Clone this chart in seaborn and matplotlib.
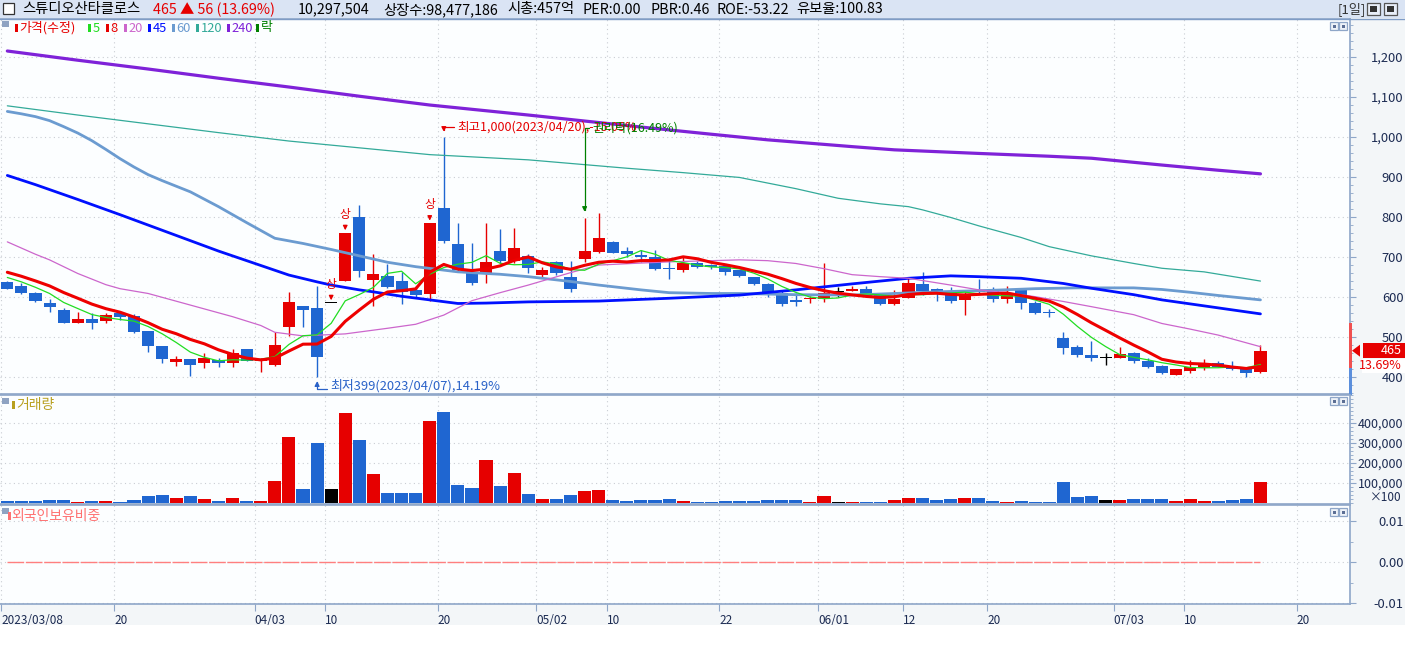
import matplotlib
matplotlib.use("Agg")
import matplotlib.pyplot as plt
import matplotlib.transforms as mtransforms
from matplotlib.patches import Rectangle, Polygon
from matplotlib.ticker import MultipleLocator
import numpy as np
import pandas as pd
import seaborn as sns

# ---------------- values ----------------
opens = [637, 627, 609, 585, 567, 535, 544, 538, 560, 552,
         514, 477, 437, 444, 433, 442, 433, 468, 440, 429,
         525, 577, 572, 585, 640, 799, 642, 652, 639, 617,
         606, 822, 731, 658, 660, 714, 689, 702, 653, 686,
         649, 693, 712, 737, 713, 703, 700, 671, 667, 685,
         678, 677, 666, 649, 632, 608, 592, 593, 593, 612,
         615, 618, 608, 582, 597, 631, 618, 612, 591, 617,
         617, 595, 617, 583, 562, 496, 475, 455, 446, 447,
         459, 440, 427, 404, 415, 422, 435, 427, 421, 412]
highs = [640, 635, 612, 593, 572, 562, 558, 558, 560, 557,
         514, 477, 452, 444, 458, 446, 468, 468, 446, 512,
         611, 577, 627, 585, 760, 829, 706, 681, 662, 627,
         784, 1000, 783, 733, 783, 769, 772, 706, 675, 688,
         688, 796, 808, 738, 725, 717, 717, 696, 700, 688,
         681, 677, 666, 649, 635, 613, 610, 601, 683, 625,
         627, 627, 610, 617, 646, 661, 622, 623, 612, 643,
         623, 627, 620, 590, 568, 512, 479, 489, 458, 475,
         462, 446, 429, 420, 442, 443, 440, 439, 425, 479]
lows = [618, 607, 587, 562, 533, 535, 518, 533, 542, 510,
        462, 433, 427, 402, 421, 423, 425, 438, 412, 427,
        502, 525, 399, 585, 640, 650, 577, 621, 582, 596,
        588, 733, 662, 628, 633, 683, 683, 658, 650, 654,
        612, 687, 708, 708, 700, 687, 667, 645, 662, 671,
        670, 655, 648, 628, 600, 577, 577, 583, 587, 600,
        613, 598, 579, 579, 596, 604, 590, 585, 554, 608,
        587, 585, 570, 557, 548, 456, 450, 440, 430, 446,
        435, 421, 407, 403, 408, 417, 423, 417, 400, 408]
closes = [620, 610, 590, 575, 533, 544, 535, 553, 550, 512,
          477, 444, 444, 430, 447, 433, 458, 439, 441, 479,
          586, 567, 450, 585, 760, 665, 656, 625, 612, 603,
          784, 740, 667, 635, 686, 689, 722, 671, 667, 658,
          620, 714, 747, 710, 707, 698, 669, 669, 683, 675,
          675, 662, 652, 631, 603, 581, 587, 594, 610, 612,
          618, 600, 582, 595, 633, 614, 615, 588, 607, 612,
          595, 608, 583, 560, 558, 472, 455, 446, 446, 457,
          438, 424, 410, 418, 425, 434, 425, 419, 409, 465]
# closes before the first visible day (estimated from where MA5 / MA8 start)
prior_closes = [690, 683, 675, 665, 658, 652, 645]

# volume in the axis unit (x100 shares)
volumes = [8000, 8000, 8000, 13000, 13000, 3000, 8000, 8000, 3000, 13000,
           33000, 38000, 23000, 33000, 18000, 8000, 23000, 8000, 8000, 108000,
           328000, 68000, 298000, 68000, 448000, 313000, 143000, 48000, 48000, 48000,
           408000, 453000, 88000, 73000, 213000, 83000, 148000, 43000, 18000, 18000,
           38000, 58000, 63000, 13000, 8000, 13000, 13000, 18000, 8000, 3000,
           5000, 8000, 8000, 8000, 13000, 13000, 13000, 3000, 33000, 3000,
           3000, 3000, 3000, 13000, 23000, 23000, 13000, 18000, 23000, 23000,
           8000, 3000, 8000, 3000, 3000, 103000, 28000, 33000, 13000, 13000,
           18000, 18000, 18000, 8000, 18000, 8000, 8000, 13000, 18000, 103000]

foreign_ratio = [0.0] * 90

# longer moving averages read at many days (day index, value)
ma20_x = [0, 2, 3, 5, 7, 8, 10, 13, 16, 18, 19, 21, 24, 27, 29, 31, 33, 35, 37, 40, 42, 45, 47, 50, 52,
          54, 56, 58, 60, 62, 64, 67, 69, 71, 73, 75, 77, 80, 82, 84, 86, 89]
ma20_y = [737, 706, 692, 658, 630, 620, 608, 579, 550, 528, 511, 502, 507, 521, 531, 554, 590, 610, 629,
          660, 679, 684, 687, 690, 692, 690, 683, 670, 655, 650, 646, 629, 617, 610, 600, 588, 575, 555,
          533, 519, 504, 475]
ma45_x = [0, 2, 5, 8, 10, 13, 15, 18, 20, 22, 23, 25, 26, 28, 30, 32, 34, 37, 42, 47, 52, 56, 60,
          64, 67, 69, 72, 75, 77, 80, 82, 86, 89]
ma45_y = [903, 880, 843, 805, 779, 740, 714, 678, 654, 637, 629, 617, 612, 601, 592, 583, 584, 587,
          589, 596, 604, 617, 632, 646, 652, 650, 646, 633, 621, 605, 592, 572, 557]
ma60_x = [0, 1, 2, 3, 4, 5, 6, 7, 8, 9, 10, 11, 12, 13, 15, 17, 19, 21, 23, 25, 27, 29, 32, 35, 37,
          40, 42, 45, 47, 50, 52, 56, 60, 63, 66, 70, 73, 76, 80, 82, 84, 86, 89]
ma60_y = [1063, 1057, 1050, 1040, 1025, 1009, 990, 968, 945, 924, 905, 890, 876, 862, 825, 785, 746,
          733, 718, 702, 686, 675, 662, 656, 650, 638, 629, 617, 610, 608, 608, 605, 604, 608, 612,
          616, 620, 622, 622, 618, 611, 603, 592]
ma120_x = [0, 5, 10, 15, 20, 25, 30, 37, 44, 48, 52, 56, 59, 62, 64, 65, 67, 69, 72, 74, 77, 80, 82,
           85, 89]
ma120_y = [1077, 1054, 1032, 1010, 989, 972, 955, 942, 921, 910, 898, 870, 846, 832, 825, 817, 798,
           777, 748, 725, 702, 683, 671, 662, 639]
ma240_x = [0, 5, 10, 15, 20, 25, 30, 37, 45, 50, 54, 60, 63, 69, 74, 77, 82, 86, 89]
ma240_y = [1214, 1191, 1169, 1146, 1124, 1101, 1079, 1054, 1024, 1006, 992, 975, 967, 958, 951, 946,
           929, 916, 907]

limit_up_days = [23, 24, 30]
low_day, high_day, rights_day = 22, 31, 41

date_ticks = [0, 8, 18, 23, 31, 38, 43, 51, 58, 64, 70, 79, 84, 92]
date_labels = ["2023/03/08", "20", "04/03", "10", "20", "05/02", "10",
               "22", "06/01", "12", "20", "07/03", "10", "20"]
price_ticks = [400, 500, 600, 700, 800, 900, 1000, 1100, 1200]
volume_ticks = [100000, 200000, 300000, 400000]

# ---------------- style ----------------
RED = "#e60000"
BLUE = "#1f66d1"
BORDER = "#8ea6c8"
GRID = "#c9cdd3"
TXT = "#1c2b52"

sns.set_theme(style="white")
plt.rcParams["font.family"] = ["Noto Sans CJK KR", "DejaVu Sans"]
plt.rcParams["axes.unicode_minus"] = False

W, H = 1405, 648
fig = plt.figure(figsize=(W / 100, H / 100), dpi=100, facecolor="#f3f6f8")


def panel(top, bottom):
    a = fig.add_axes([0, 1 - bottom / H, 1350 / W, (bottom - top) / H])
    a.set_facecolor("#fcfeff")
    for s in a.spines.values():
        s.set_color(BORDER)
        s.set_linewidth(1.2)
    a.spines["left"].set_visible(False)
    return a


ax_p = panel(19, 394)
ax_v = panel(395, 504)
ax_f = panel(505, 604)

idx = np.arange(len(closes))
o = np.array(opens)
c = np.array(closes)
candle_colors = [RED if cc > oo else (BLUE if cc < oo else "black") for oo, cc in zip(opens, closes)]

for a in (ax_p, ax_v, ax_f):
    a.set_xlim(-0.52, 95.36)
    a.set_xticks([t - 0.42 for t in date_ticks])
    a.grid(axis="both", color=GRID, linestyle=(0, (1, 3)), linewidth=0.8)
    a.yaxis.tick_right()
    a.tick_params(axis="y", right=True, length=4, width=0.8, color=BORDER,
                  pad=34.5, labelsize=9.3, labelcolor=TXT)
    a.tick_params(axis="y", which="minor", right=True, length=2, width=0.6, color=BORDER)
    a.set_axisbelow(True)

ax_p.tick_params(axis="x", bottom=False, labelbottom=False)
ax_v.tick_params(axis="x", bottom=False, labelbottom=False)
ax_f.set_xticklabels(date_labels)
ax_f.tick_params(axis="x", bottom=True, length=5, width=0.8, color=BORDER,
                 pad=2, labelsize=8.5, labelcolor=TXT)
for lab in ax_f.get_xticklabels():
    lab.set_ha("left")

# ---------------- price panel ----------------
ax_p.set_ylim(356.75, 1294)
ax_p.set_yticks(price_ticks)
ax_p.set_yticklabels([f"{v:,}" for v in price_ticks])
ax_p.yaxis.set_minor_locator(MultipleLocator(20))
for lab in ax_p.get_yticklabels():
    lab.set_ha("right")

ax_p.vlines(idx, lows, highs, colors=candle_colors, lw=1, zorder=3)
ax_p.bar(idx, np.maximum(np.abs(c - o), 2.5), bottom=np.minimum(o, c),
         width=0.86, color=candle_colors, linewidth=0, zorder=4)

all_closes = pd.Series(prior_closes + closes, dtype=float)
n_prior = len(prior_closes)
ma5 = all_closes.rolling(5).mean().iloc[n_prior:].to_numpy()
ma8 = all_closes.rolling(8).mean().iloc[n_prior:].to_numpy()

ma_lines = [
    (ma240_x, ma240_y, "#7f22d8", 2.3),
    (ma120_x, ma120_y, "#33aa99", 0.9),
    (ma60_x, ma60_y, "#6b9bd0", 2.0),
    (ma45_x, ma45_y, "#0010ff", 2.0),
    (ma20_x, ma20_y, "#cc66cc", 0.9),
    (list(idx), list(ma5), "#22dd22", 0.9),
    (list(idx), list(ma8), "#ee0000", 2.2),
]
for xs, ys, col, lw in ma_lines:
    sns.lineplot(x=xs, y=ys, ax=ax_p, color=col, linewidth=lw, zorder=5,
                 sort=False, estimator=None)

# upper-limit markers
for d in limit_up_days:
    ax_p.annotate("상", xy=(d, max(highs[d], closes[d]) + 6), xytext=(0, 11.5),
                  textcoords="offset points", ha="center", va="center",
                  color=RED, fontsize=8.5, zorder=7,
                  arrowprops=dict(arrowstyle="-|>,head_length=0.3,head_width=0.15",
                                  color=RED, lw=0.9, shrinkA=1, shrinkB=0))

# highest / lowest / rights-issue notes
prev_close = closes[-2]
last = closes[-1]
pct = (last - prev_close) / prev_close * 100

ax_p.annotate(f"최고{highs[high_day]:,}(2023/04/20),-15.05%",
              xy=(high_day, highs[high_day] + 12), xytext=(9.5, 3.6),
              textcoords="offset points", ha="left", va="center",
              color=RED, fontsize=9, zorder=7,
              arrowprops=dict(arrowstyle="-|>,head_length=0.3,head_width=0.15",
                              color=RED, lw=0.9, shrinkA=0, shrinkB=0,
                              relpos=(0, 0.5),
                              connectionstyle="angle,angleA=0,angleB=90,rad=0"))
ax_p.annotate("권리락(16.49%)", xy=(rights_day, highs[rights_day] + 16), xytext=(5.3, 60.3),
              textcoords="offset points", ha="left", va="center",
              color="#008000", fontsize=9, zorder=7,
              arrowprops=dict(arrowstyle="-|>,head_length=0.3,head_width=0.15",
                              color="#008000", lw=0.9, shrinkA=0, shrinkB=0,
                              relpos=(0, 0.5),
                              connectionstyle="angle,angleA=0,angleB=90,rad=0"))
ax_p.annotate(f"최저{lows[low_day]}(2023/04/07),14.19%",
              xy=(low_day, lows[low_day] - 10), xytext=(9.3, -3.5),
              textcoords="offset points", ha="left", va="center",
              color="#2a62c8", fontsize=9.3, zorder=7,
              arrowprops=dict(arrowstyle="-|>,head_length=0.3,head_width=0.15",
                              color="#2a62c8", lw=0.9, shrinkA=0, shrinkB=0,
                              relpos=(0, 0.25),
                              connectionstyle="angle,angleA=0,angleB=90,rad=0"))

# current price tag on the right axis
bt = mtransforms.blended_transform_factory(ax_p.transAxes, ax_p.transData)
ax_p.add_patch(Rectangle((1363 / 1350, last - 18.75), 42 / 1350, 37.5, transform=bt,
                         fc=RED, ec="none", clip_on=False, zorder=8))
ax_p.add_patch(Rectangle((1362 / 1350, last - 56), 43 / 1350, 36, transform=bt,
                         fc="white", ec="none", clip_on=False, zorder=8))
ax_p.add_patch(Polygon([(1352 / 1350, last), (1360 / 1350, last + 15), (1360 / 1350, last - 15)],
                       closed=True, transform=bt, fc=RED, ec="none", clip_on=False, zorder=8))
ax_p.add_patch(Rectangle((1349 / 1350, 421), 3 / 1350, 113, transform=bt,
                         fc="#f05050", ec="none", clip_on=False, zorder=8))
ax_p.add_patch(Rectangle((1349 / 1350, 354), 3 / 1350, 67, transform=bt,
                         fc="#5b8fdc", ec="none", clip_on=False, zorder=8))
ax_p.text(1402 / 1350, last, f"{last}", transform=bt, ha="right", va="center",
          color="white", fontsize=9, clip_on=False, zorder=9)
ax_p.text(1402 / 1350, last - 37.5, f"{pct:.2f}%", transform=bt, ha="right", va="center",
          color=RED, fontsize=9, clip_on=False, zorder=9)

# ---------------- volume panel ----------------
ax_v.set_ylim(-5000, 540000)
ax_v.bar(idx, volumes, width=0.93, color=candle_colors, linewidth=0, zorder=3)
ax_v.set_yticks(volume_ticks)
ax_v.set_yticklabels([f"{v:,}" for v in volume_ticks])
ax_v.yaxis.set_minor_locator(MultipleLocator(20000))
for lab in ax_v.get_yticklabels():
    lab.set_ha("right")
    lab.set_fontsize(9)

# ---------------- foreign ownership panel ----------------
ax_f.set_ylim(-0.0102, 0.0140)
sns.lineplot(x=idx, y=foreign_ratio, ax=ax_f, color="#ff7f7f", linewidth=1.0,
             linestyle=(0, (12, 1.2)), zorder=3)
ax_f.set_yticks([-0.01, 0.0, 0.01])
ax_f.set_yticklabels(["-0.01", "0.00", "0.01"])
ax_f.yaxis.set_minor_locator(MultipleLocator(0.005))
for lab in ax_f.get_yticklabels():
    lab.set_ha("right")

# ---------------- overlay: header, legends, small buttons ----------------
ov = fig.add_axes([0, 0, 1, 1], zorder=10)
ov.set_xlim(0, W)
ov.set_ylim(H, 0)
ov.axis("off")
ov.patch.set_alpha(0)

ov.add_patch(Rectangle((0, 0), W, 18, fc="#dae4f4", ec="none"))
ov.axhline(18.5, color="#7f9cc6", lw=1)
ov.add_patch(Rectangle((0, 625), W, 23, fc="white", ec="none"))
ov.add_patch(Rectangle((3, 3), 11, 11, fc="white", ec="#333333", lw=0.9))

header = [
    ("스튜디오산타클로스", 22, "black"),
    (f"{last} ▲ {last - prev_close} ({pct:.2f}%)", 153, RED),
    ("10,297,504", 298, "black"),
    ("상장수:98,477,186", 383, "black"),
    ("시총:457억", 507, "black"),
    ("PER:0.00", 583, "black"),
    ("PBR:0.46", 650, "black"),
    ("ROE:-53.22", 717, "black"),
    ("유보율:100.83", 796, "black"),
]
for txt, x0, col in header:
    ov.text(x0, 9.5, txt, ha="left", va="center", fontsize=10.3, color=col)
ov.text(1338, 9.5, "[1일]", ha="left", va="center", fontsize=9.5, color="#333333")
for bx in (1367, 1384):
    ov.add_patch(Rectangle((bx, 3), 13, 12, fc="#e8eef8", ec="#555555", lw=0.9))
    ov.add_patch(Rectangle((bx + 3, 6), 7, 6, fc="#333333", ec="none"))

legend_items = [
    ("가격(수정)", 15, RED), ("5", 88, "#22dd22"), ("8", 106, RED),
    ("20", 124, "#cc66cc"), ("45", 148, "#0010ff"), ("60", 172, "#6b9bd0"),
    ("120", 196, "#33aa99"), ("240", 227, "#7f22d8"), ("락", 256, "#008000"),
]
ov.add_patch(Rectangle((2, 21), 7, 6, fc="#8fa3c2", ec="none"))
for txt, x0, col in legend_items:
    ov.add_patch(Rectangle((x0, 24), 2.5, 8, fc=col, ec="none"))
    ov.text(x0 + 4.5, 28, txt, ha="left", va="center", fontsize=9.3, color=col)

ov.add_patch(Rectangle((2, 398), 7, 6, fc="#8fa3c2", ec="none"))
ov.add_patch(Rectangle((12, 401), 2.5, 8, fc="#b8a020", ec="none"))
ov.text(16, 405, "거래량", ha="left", va="center", fontsize=10, color="#b8a020")
ov.add_patch(Rectangle((2, 508), 7, 6, fc="#8fa3c2", ec="none"))
ov.add_patch(Rectangle((8, 512), 2.5, 8, fc="#ff7070", ec="none"))
ov.text(11.5, 516, "외국인보유비중", ha="left", va="center", fontsize=10, color="#ff7070")
ov.text(1402, 497.5, "×100", ha="right", va="center", fontsize=8.5, color=TXT)

for by in (22, 397, 508):
    for bx in (1330, 1339):
        ov.add_patch(Rectangle((bx, by), 8, 8, fc="#eef2f8", ec=BORDER, lw=0.9))
        ov.add_patch(Rectangle((bx + 2.5, by + 2.5), 3, 3, fc="#5c6f95", ec="none"))

fig.savefig("out.png", dpi=100, facecolor=fig.get_facecolor())
